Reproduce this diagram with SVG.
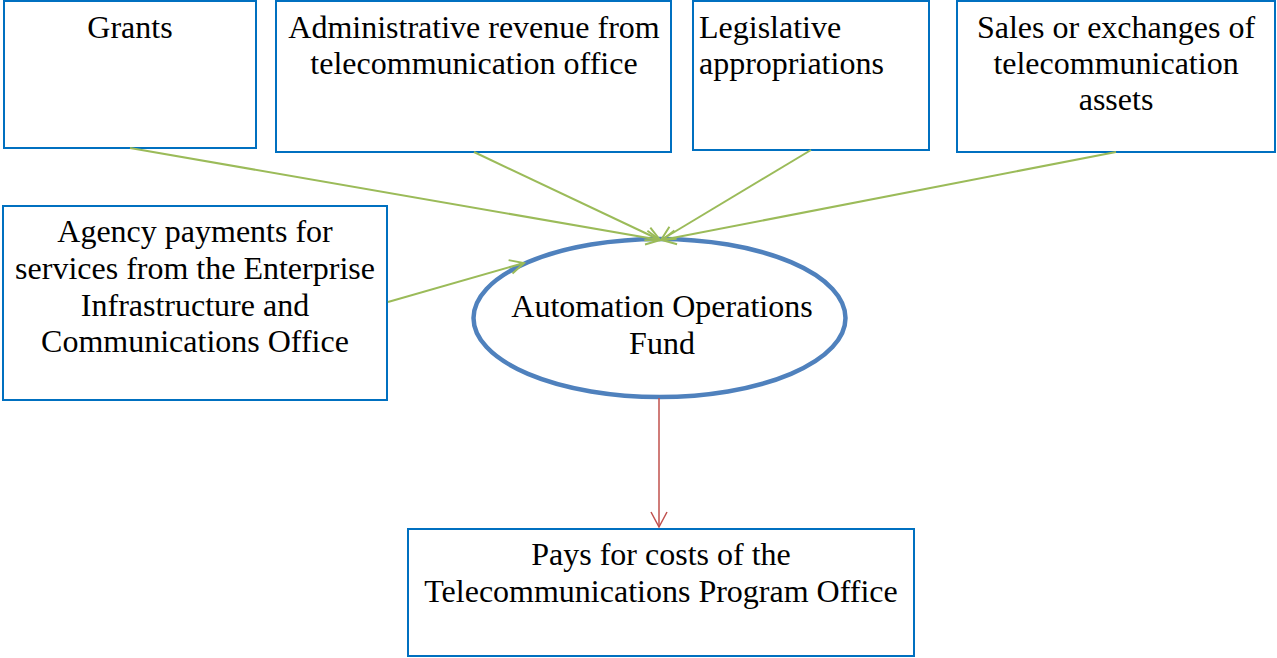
<svg xmlns="http://www.w3.org/2000/svg" width="1277" height="658" viewBox="0 0 1277 658">
<style>
.box{fill:#fff;stroke:#0070C0;stroke-width:2}
.t{font-family:"Liberation Serif","Times New Roman",serif;font-size:32px;fill:#000;text-anchor:middle}
.l{text-anchor:start}
.g{stroke:#9BBB59;stroke-width:2;fill:none}
.r{stroke:#C0504D;stroke-width:1.5;fill:none}
</style>
<defs>
<marker id="ag" markerUnits="userSpaceOnUse" markerWidth="20" markerHeight="20" refX="16" refY="8" orient="auto" overflow="visible">
<path d="M2,1 L16,8 L2,15" fill="none" stroke="#9BBB59" stroke-width="2"/>
</marker>
<marker id="ar" markerUnits="userSpaceOnUse" markerWidth="20" markerHeight="20" refX="16" refY="8" orient="auto" overflow="visible">
<path d="M1,0 L16,8 L1,16" fill="none" stroke="#C0504D" stroke-width="1.5"/>
</marker>
</defs>
<g id="grants">
<rect class="box" x="4" y="1" width="252" height="147"/>
<text class="t" x="130" y="38">Grants</text>
</g>
<g id="admin">
<rect class="box" x="276" y="1" width="395" height="151"/>
<text class="t" x="474" y="38">Administrative revenue from</text>
<text class="t" x="474" y="74">telecommunication office</text>
</g>
<g id="legislative">
<rect class="box" x="693" y="1" width="236" height="149"/>
<text class="t l" x="699" y="38">Legislative</text>
<text class="t l" x="699" y="74">appropriations</text>
</g>
<g id="sales">
<rect class="box" x="957" y="1" width="318" height="151"/>
<text class="t" x="1116" y="38">Sales or exchanges of</text>
<text class="t" x="1116" y="74">telecommunication</text>
<text class="t" x="1116" y="110">assets</text>
</g>
<g id="agency">
<rect class="box" x="3" y="206" width="384" height="194"/>
<text class="t" x="195" y="242">Agency payments for</text>
<text class="t" x="195" y="279">services from the Enterprise</text>
<text class="t" x="195" y="316">Infrastructure and</text>
<text class="t" x="195" y="352">Communications Office</text>
</g>
<g id="fund">
<ellipse cx="659.5" cy="318" rx="186" ry="79" fill="#fff" stroke="#4F81BD" stroke-width="4.5"/>
<text class="t" x="662" y="317">Automation Operations</text>
<text class="t" x="662" y="354">Fund</text>
</g>
<g id="pays">
<rect class="box" x="408" y="529" width="506" height="127"/>
<text class="t" x="661" y="565">Pays for costs of the</text>
<text class="t" x="661" y="602">Telecommunications Program Office</text>
</g>
<g id="connectors">
<line class="g" x1="130" y1="148" x2="660" y2="240" marker-end="url(#ag)"/>
<line class="g" x1="474" y1="152" x2="660" y2="240" marker-end="url(#ag)"/>
<line class="g" x1="811" y1="150" x2="661" y2="240" marker-end="url(#ag)"/>
<line class="g" x1="1116" y1="152" x2="662" y2="240" marker-end="url(#ag)"/>
<line class="g" x1="388" y1="302" x2="524" y2="263" marker-end="url(#ag)"/>
<line class="r" x1="659" y1="398" x2="659" y2="527" marker-end="url(#ar)"/>
</g>
</svg>
